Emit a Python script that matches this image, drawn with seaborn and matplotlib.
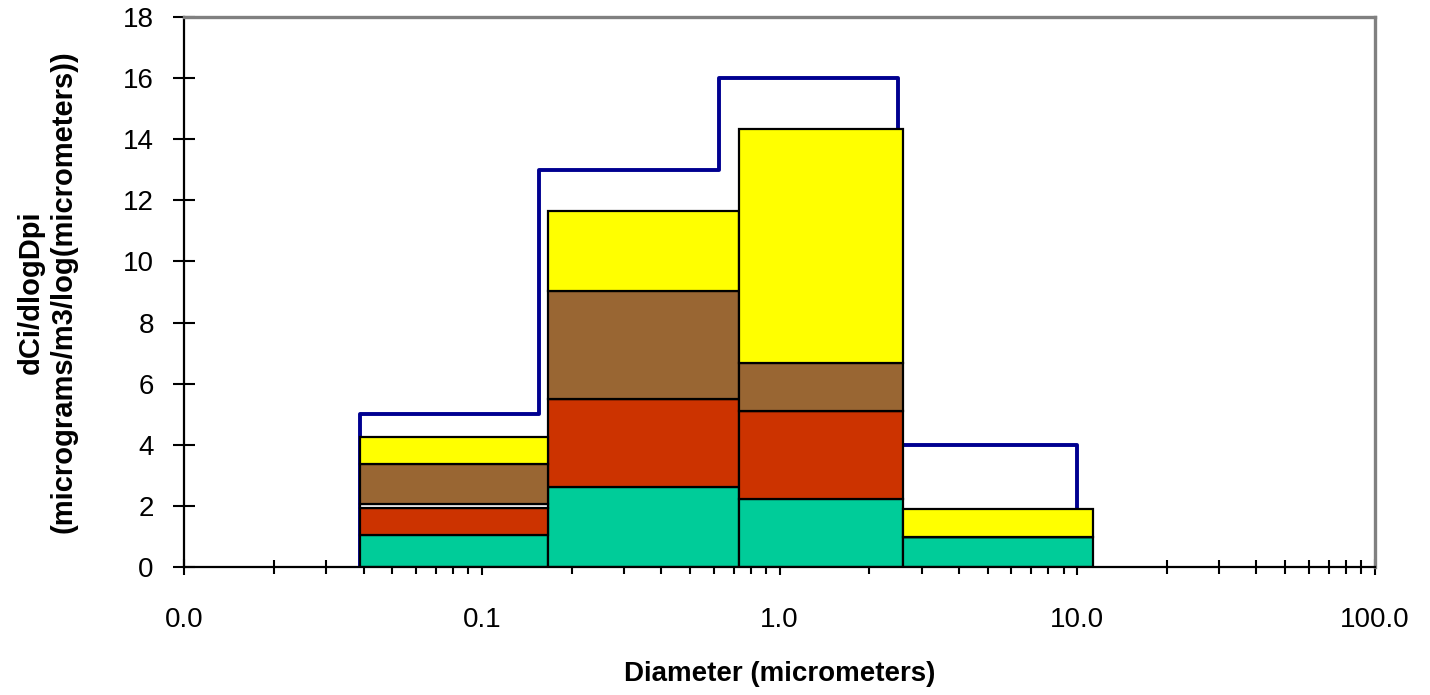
import numpy as np
import pandas as pd
import matplotlib
matplotlib.use("Agg")
import matplotlib.pyplot as plt
from matplotlib.ticker import FixedLocator, FixedFormatter, LogLocator, NullFormatter
import seaborn as sns

# Size-bin edges of the stacked component bars (micrometers)
bar_edges = [0.039, 0.167, 0.73, 2.6, 11.3]

# Component dCi/dlogDpi per bin, bottom to top
green = [1.04, 2.61, 2.22, 0.98]
red = [0.87, 2.89, 2.88, 0.0]
gap = [0.13, 0.0, 0.0, 0.0]
brown = [1.31, 3.54, 1.58, 0.0]
yellow = [0.90, 2.62, 7.67, 0.91]

# Total mass distribution drawn as a step outline
total_edges = [0.039, 0.156, 0.625, 2.5, 10.0]
total_levels = [5, 13, 16, 4]

x_tick_values = [0.01, 0.1, 1, 10, 100]
x_tick_labels = ["0.0", "0.1", "1.0", "10.0", "100.0"]
y_ticks = list(range(0, 19, 2))

components = ["yellow", "brown", "gap", "red", "green"]  # top to bottom
palette = {
    "yellow": "#FFFF00",
    "brown": "#996633",
    "gap": "#FFFFFF",
    "red": "#CC3300",
    "green": "#00CC99",
}

sns.set_theme(style="white")
plt.rcParams["font.family"] = ["Liberation Sans", "DejaVu Sans"]
plt.rcParams.update({
    "text.color": "black",
    "axes.labelcolor": "black",
    "xtick.color": "black",
    "ytick.color": "black",
})

# Long-form table: one weighted sample per bin and component
edges = np.array(bar_edges)
centers = np.sqrt(edges[:-1] * edges[1:])
values = {"green": green, "red": red, "gap": gap, "brown": brown, "yellow": yellow}
df = pd.DataFrame(
    [
        {"diameter": c, "component": comp, "value": v}
        for comp in components
        for c, v in zip(centers, values[comp])
    ]
)

fig = plt.figure(figsize=(14.3, 6.95), dpi=100)
ax = fig.add_axes([0.1289, 0.1846, 0.8326, 0.7905])

# Step outline of the total, behind the bars
tx = np.repeat(total_edges, 2)
ty = np.concatenate([[0], np.repeat(total_levels, 2), [0]])
sns.lineplot(
    x=tx, y=ty, sort=False, estimator=None, color="#000090",
    linewidth=2.8, ax=ax, zorder=1,
)

sns.histplot(
    data=df, x="diameter", weights="value", hue="component",
    hue_order=components, palette=palette, multiple="stack",
    bins=[float(b) for b in np.log10(edges)], log_scale=True, element="bars",
    alpha=1, edgecolor="black", linewidth=1.6, legend=False,
    ax=ax, zorder=2,
)

ax.set_xscale("log")
ax.set_xlim(0.01, 100)
ax.set_ylim(0, 18)
ax.xaxis.set_major_locator(FixedLocator(x_tick_values))
ax.xaxis.set_major_formatter(FixedFormatter(x_tick_labels))
ax.xaxis.set_minor_locator(LogLocator(base=10, subs=np.arange(2, 10)))
ax.xaxis.set_minor_formatter(NullFormatter())
ax.set_yticks(y_ticks)

ax.tick_params(axis="y", which="major", direction="inout", length=16,
               width=1.5, color="black", left=True, pad=14, labelsize=20,
               labelcolor="black")
ax.tick_params(axis="x", which="major", direction="inout", length=12,
               width=1.5, color="black", bottom=True, pad=23, labelsize=20,
               labelcolor="black")
ax.tick_params(axis="x", which="minor", direction="inout", length=9.5,
               width=1.5, color="black", bottom=True)

for side in ("left", "bottom"):
    ax.spines[side].set_color("black")
    ax.spines[side].set_linewidth(1.6)
for side in ("top", "right"):
    ax.spines[side].set_color("#808080")
    ax.spines[side].set_linewidth(2.4)

ax.set_xlabel("Diameter (micrometers)", fontsize=20, fontweight="bold",
              labelpad=20, color="black")
ax.set_ylabel("dCi/dlogDpi\n(micrograms/m3/log(micrometers))",
              fontsize=21, fontweight="bold", color="black")
ax.yaxis.set_label_coords(-0.09, 0.5)
ax.grid(False)

fig.savefig("out.png", dpi=100)
